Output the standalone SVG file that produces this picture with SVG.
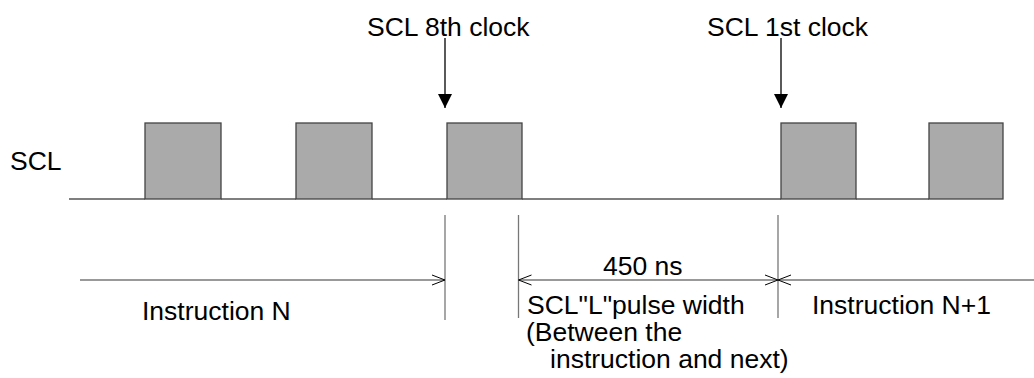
<svg xmlns="http://www.w3.org/2000/svg" width="1034" height="378" viewBox="0 0 1034 378">
<style>
text{font-family:"Liberation Sans",Arial,sans-serif;font-size:26.5px;fill:#000}
.wave{fill:#aaaaaa;stroke:#444;stroke-width:1.3}
.base{fill:none;stroke:#555;stroke-width:1.3}
.dim{fill:none;stroke:#777;stroke-width:1.3}
.ptr{stroke:#000;stroke-width:1.3}
</style>
<defs>
<marker id="filled" markerWidth="14" markerHeight="14" refX="14" refY="7" orient="auto" markerUnits="userSpaceOnUse">
<path d="M0,0 L14,7 L0,14 Z" fill="#000"/>
</marker>
<marker id="openArr" markerWidth="14" markerHeight="12" refX="13" refY="6" orient="auto-start-reverse" markerUnits="userSpaceOnUse">
<path d="M0,1 L13,6 L0,11" fill="none" stroke="#000" stroke-width="1"/>
</marker>
</defs>
<rect width="1034" height="378" fill="#fff"/>
<g id="scl-label"><text x="10" y="170">SCL</text></g>
<g id="waveform">
<path class="base" d="M69,199 H145 M221,199 H296 M372,199 H447 M522,199 H781 M856,199 H929"/>
<rect class="wave" x="145" y="123" width="76" height="76"/>
<rect class="wave" x="296" y="123" width="76" height="76"/>
<rect class="wave" x="447" y="123" width="75" height="76"/>
<rect class="wave" x="781" y="123" width="75" height="76"/>
<rect class="wave" x="929" y="123" width="74" height="76"/>
</g>
<g id="clock8"><text x="367" y="36">SCL 8th clock</text></g>
<g id="clock1"><text x="707" y="36">SCL 1st clock</text></g>
<g id="instrN"><text x="142" y="320">Instruction N</text></g>
<g id="pulse-width">
<text x="603" y="275">450 ns</text>
<text x="527" y="314">SCL"L"pulse width</text>
<text x="526" y="341">(Between the</text>
<text x="550" y="368">instruction and next)</text>
</g>
<g id="instrN1"><text x="812" y="314">Instruction N+1</text></g>
<g id="connectors">
<line class="ptr" x1="445" y1="38" x2="445" y2="108" marker-end="url(#filled)"/>
<line class="ptr" x1="781" y1="38" x2="781" y2="108" marker-end="url(#filled)"/>
<line class="dim" x1="445" y1="215" x2="445" y2="320"/>
<line class="dim" x1="518.5" y1="215" x2="518.5" y2="318"/>
<line class="dim" x1="778" y1="215" x2="778" y2="318"/>
<line class="dim" x1="80" y1="280" x2="445" y2="280" marker-end="url(#openArr)"/>
<line class="dim" x1="518.5" y1="280" x2="778" y2="280" marker-start="url(#openArr)" marker-end="url(#openArr)"/>
<line class="dim" x1="778" y1="280" x2="1034" y2="280" marker-start="url(#openArr)"/>
</g>
</svg>
